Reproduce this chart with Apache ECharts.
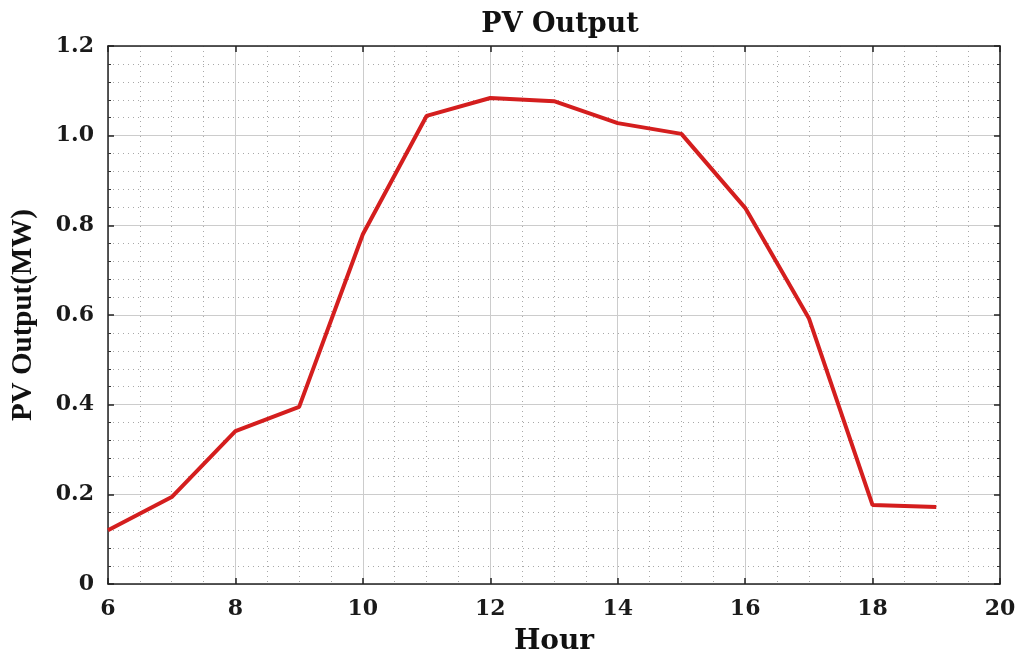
<!DOCTYPE html>
<html>
<head>
<meta charset="utf-8">
<script src="https://cdn.jsdelivr.net/npm/echarts@6/dist/echarts.min.js"></script>
<style>
  html, body { margin: 0; padding: 0; background: #fff; }
  #chart { width: 1019px; height: 654px; }
</style>
</head>
<body>
<div id="chart"></div>
<script>
// 小时
var hours = [6, 7, 8, 9, 10, 11, 12, 13, 14, 15, 16, 17, 18, 19];
// 光伏出力 (MW)
var pvOutput = [0.12, 0.194, 0.341, 0.395, 0.78, 1.044, 1.084, 1.077, 1.028, 1.004, 0.839, 0.593, 0.176, 0.172];

var wideFont = "'DejaVu Serif', serif";
var timesFont = "'Liberation Serif', 'DejaVu Serif', serif";
var chart = echarts.init(document.getElementById("chart"));

var axisBase = {
  type: "value",
  axisLine: { show: true, onZero: false, lineStyle: { color: "#222", width: 1.5 } },
  axisTick: { show: true, inside: true, length: 6, lineStyle: { color: "#222", width: 1.5 } },
  minorTick: { show: true, length: 3, lineStyle: { color: "#333" } }
};
var labelStyle = { fontFamily: wideFont, fontWeight: "bold", fontSize: 22, color: "#1a1a1a" };

chart.setOption({
  animation: false,
  title: {
    text: "PV Output",
    left: 555,
    top: 6,
    textAlign: "center",
    textStyle: { fontFamily: wideFont, fontWeight: "bold", fontSize: 27, color: "#111" }
  },
  grid: { left: 108, right: 19, top: 46, bottom: 70, containLabel: false, outerBoundsMode: "none" },
  xAxis: [
    Object.assign({}, axisBase, {
      min: 6, max: 20, interval: 2,
      position: "bottom",
      name: "Hour",
      nameLocation: "middle",
      nameGap: 44,
      nameTextStyle: { fontFamily: wideFont, fontWeight: "bold", fontSize: 28, color: "#111" },
      axisLabel: Object.assign({ margin: 14 }, labelStyle),
      minorTick: { show: false, splitNumber: 4 },
      splitLine: { show: true, lineStyle: { color: "#cccccc", width: 1 } },
      minorSplitLine: { show: true, lineStyle: { color: "#a8a8a8", type: [1, 4], width: 1 } }
    }),
    Object.assign({}, axisBase, {
      min: 6, max: 20, interval: 2,
      position: "top",
      axisLabel: { show: false },
      minorTick: { show: false },
      splitLine: { show: false }
    })
  ],
  yAxis: [
    Object.assign({}, axisBase, {
      min: 0, max: 1.2, interval: 0.2,
      position: "left",
      name: "PV Output(MW)",
      nameLocation: "middle",
      nameGap: 70,
      nameTextStyle: { fontFamily: timesFont, fontWeight: "bold", fontSize: 29, color: "#111" },
      axisLabel: Object.assign({
        margin: 14,
        formatter: function (v) { return v === 0 ? "0" : v.toFixed(1); }
      }, labelStyle),
      minorTick: { show: true, splitNumber: 5, length: 3, lineStyle: { color: "#333" } },
      splitLine: { show: true, lineStyle: { color: "#cccccc", width: 1 } },
      minorSplitLine: { show: true, lineStyle: { color: "#a8a8a8", type: [1, 4], width: 1 } }
    }),
    Object.assign({}, axisBase, {
      min: 0, max: 1.2, interval: 0.2,
      position: "right",
      axisLabel: { show: false },
      minorTick: { show: true, splitNumber: 5, length: 3, lineStyle: { color: "#333" } },
      splitLine: { show: false }
    })
  ],
  series: [
    {
      type: "line",
      data: hours.map(function (h, i) { return [h, pvOutput[i]]; }),
      showSymbol: false,
      lineStyle: { color: "#d41e1e", width: 4 },
      itemStyle: { color: "#d41e1e" }
    }
  ]
});
</script>
</body>
</html>
